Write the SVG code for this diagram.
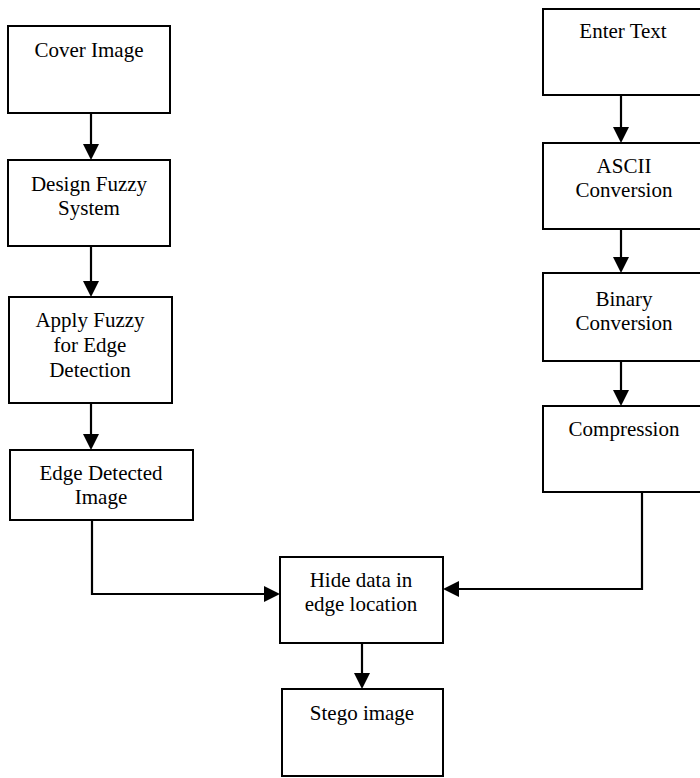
<svg xmlns="http://www.w3.org/2000/svg" width="700" height="778" viewBox="0 0 700 778">
<style>
.box{fill:#fff;stroke:#000;stroke-width:2}
.t{font-family:"Liberation Serif",Tinos,"DejaVu Serif",serif;font-size:21px;fill:#000;text-anchor:middle}
.c{fill:none;stroke:#000;stroke-width:2.2}
</style>
<defs>
<marker id="ah" viewBox="0 0 16 16" refX="0" refY="8" markerWidth="16" markerHeight="16" markerUnits="userSpaceOnUse" orient="auto">
<path d="M0,0 L16,8 L0,16 z" fill="#000"/>
</marker>
</defs>
<rect width="700" height="778" fill="#fff"/>
<g id="connectors">
<path class="c" d="M91,113 V144" marker-end="url(#ah)"/>
<path class="c" d="M91,246 V281" marker-end="url(#ah)"/>
<path class="c" d="M91,403 V434" marker-end="url(#ah)"/>
<path class="c" d="M621,95 V127" marker-end="url(#ah)"/>
<path class="c" d="M621,229 V257" marker-end="url(#ah)"/>
<path class="c" d="M621,361 V390" marker-end="url(#ah)"/>
<path class="c" d="M92,520 V594 H264" marker-end="url(#ah)"/>
<path class="c" d="M642,492 V589 H459" marker-end="url(#ah)"/>
<path class="c" d="M362,643 V673" marker-end="url(#ah)"/>
</g>
<g id="cover">
<rect class="box" x="8" y="26" width="162" height="87"/>
<text class="t" x="89" y="57">Cover Image</text>
</g>
<g id="design">
<rect class="box" x="8" y="160" width="162" height="86"/>
<text class="t" x="89" y="191">Design Fuzzy</text>
<text class="t" x="89" y="215">System</text>
</g>
<g id="apply">
<rect class="box" x="9" y="297" width="163" height="106"/>
<text class="t" x="90" y="327">Apply Fuzzy</text>
<text class="t" x="90" y="352">for Edge</text>
<text class="t" x="90" y="377">Detection</text>
</g>
<g id="edge">
<rect class="box" x="10" y="450" width="183" height="70"/>
<text class="t" x="101" y="480">Edge Detected</text>
<text class="t" x="101" y="504">Image</text>
</g>
<g id="enter">
<rect class="box" x="543" y="9" width="162" height="86"/>
<text class="t" x="623" y="38">Enter Text</text>
</g>
<g id="ascii">
<rect class="box" x="543" y="143" width="162" height="86"/>
<text class="t" x="624" y="173">ASCII</text>
<text class="t" x="624" y="197">Conversion</text>
</g>
<g id="binary">
<rect class="box" x="543" y="273" width="162" height="88"/>
<text class="t" x="624" y="306">Binary</text>
<text class="t" x="624" y="330">Conversion</text>
</g>
<g id="compression">
<rect class="box" x="543" y="406" width="162" height="86"/>
<text class="t" x="624" y="436">Compression</text>
</g>
<g id="hide">
<rect class="box" x="280" y="557" width="163" height="86"/>
<text class="t" x="361" y="587">Hide data in</text>
<text class="t" x="361" y="611">edge location</text>
</g>
<g id="stego">
<rect class="box" x="282" y="689" width="161" height="87"/>
<text class="t" x="362" y="720">Stego image</text>
</g>
</svg>
